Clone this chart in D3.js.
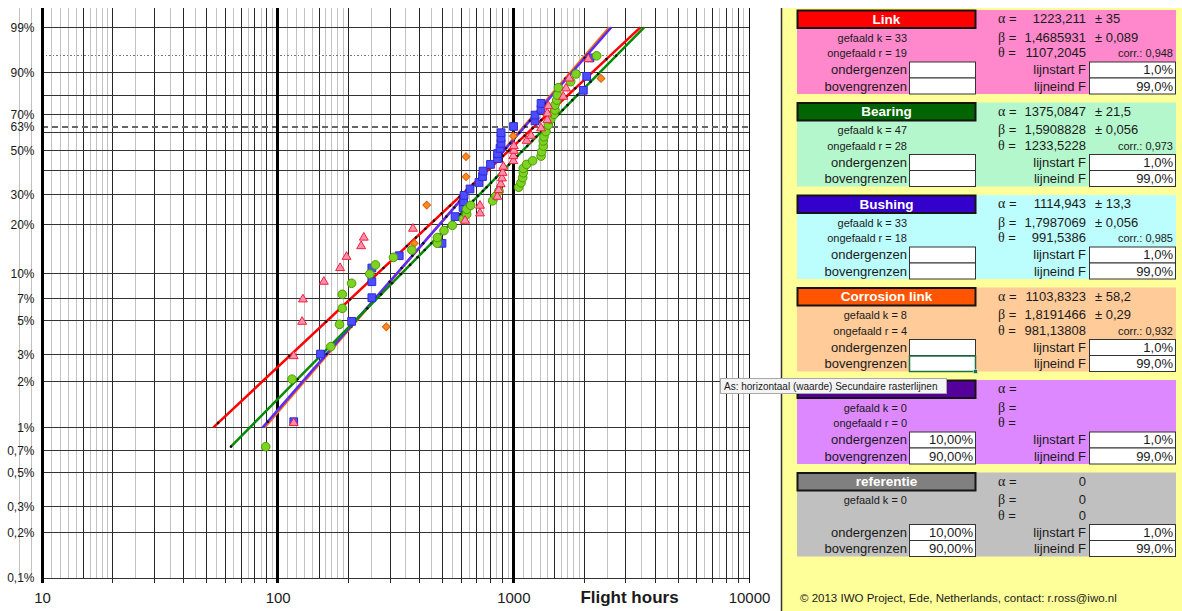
<!DOCTYPE html>
<html>
<head>
<meta charset="utf-8">
<script src="https://cdn.jsdelivr.net/npm/d3@7"></script>
<style>
body { margin: 0; background: #fff; }
text { font-family: "Liberation Sans", Arial, Helvetica, sans-serif; fill: #1a1a1a; }
</style>
</head>
<body>
<div id="chart"></div>
<script>
// =====================
// data
// =====================

// failure times (flight hours) and median ranks F (%)
const linkHours = [117, 117, 127, 128, 157, 184, 196, 226, 232, 375, 624, 722, 722, 855, 867, 884, 895, 901, 907, 1000,
    1000, 1005, 1005, 1139, 1188, 1311, 1394, 1394, 1407, 1629, 1673, 1728, 2080];
const linkF = [1.07, 2.95, 4.94, 6.89, 8.93, 10.9, 12.8, 14.9, 16.8, 19.0, 21.2, 23.4, 25.9, 29.1, 31.7, 34.1, 36.6, 39.1, 42.0, 44.8,
    47.3, 50.1, 52.6, 55.5, 58.3, 62.5, 67.1, 70.8, 74.8, 79.6, 83.6, 87.8, 94.1];

const bearingHours = [89, 115, 168, 183, 188, 188, 206, 246, 260, 310, 371, 476, 476, 508, 551, 613, 634, 634, 659, 817,
    844, 869, 1054, 1078, 1096, 1102, 1102, 1139, 1208, 1311, 1319, 1340, 1340, 1349, 1376, 1407, 1441, 1488, 1502, 1502,
    1528, 1537, 1551, 1751, 1845, 2258];
const bearingF = [0.745, 2.08, 3.40, 4.75, 6.03, 7.42, 8.73, 9.99, 11.4, 12.7, 14.1, 15.5, 16.8, 18.5, 19.9, 21.7, 23.1, 24.7, 26.0, 27.6,
    29.4, 31.3, 32.8, 34.7, 36.9, 39.1, 41.2, 43.1, 44.9, 47.3, 49.6, 52.6, 55.4, 57.7, 60.6, 64.3, 67.5, 70.3, 72.7, 75.3,
    77.9, 80.4, 83.9, 86.5, 89.5, 94.9];

const bushingHours = [117, 152, 206, 251, 251, 251, 328, 498, 566, 612, 615, 618, 655, 715, 740, 744, 800, 857, 857, 878,
    887, 887, 887, 1002, 1236, 1236, 1311, 1311, 1982, 2048, 2115];
const bushingF = [1.09, 3.04, 4.97, 7.06, 8.93, 10.9, 13.0, 15.5, 22.4, 25.3, 27.3, 29.6, 32.1, 34.8, 37.4, 39.9, 43.1, 46.0, 48.6, 51.4,
    54.1, 57.0, 60.0, 63.5, 66.7, 69.9, 73.0, 76.2, 82.7, 88.6, 94.4];

const corrosionHours = [289, 380, 429, 630, 630, 1000, 2355];
const corrosionF = [4.58, 15.5, 26.1, 37.3, 47.0, 58.1, 87.8];

// fit results per block (Link, Bearing, Bushing, Corrosion link, (leeg), referentie)
const blockNames = ["Link", "Bearing", "Bushing", "Corrosion link", "", "referentie"];
const alphas = [1223.211, 1375.0847, 1114.943, 1103.8323, null, 0];
const alphaErr = ["± 35", "± 21,5", "± 13,3", "± 58,2", "", ""];
const betas = [1.4685931, 1.5908828, 1.7987069, 1.8191466, null, 0];
const betaErr = ["± 0,089", "± 0,056", "± 0,056", "± 0,29", "", ""];
const thetas = [1107.2045, 1233.5228, 991.5386, 981.13808, null, 0];
const corrs = ["0,948", "0,973", "0,985", "0,932", "", ""];
const failedK = [33, 47, 33, 8, 0, 0];
const unfailedR = [19, 28, 18, 4, 0, null];
const lowerBounds = ["", "", "", "", "10,00%", "10,00%"];
const upperBounds = ["", "", "", "", "90,00%", "90,00%"];
const lineStartF = [1.0, 1.0, 1.0, 1.0, 1.0, 1.0];
const lineEndF = [99.0, 99.0, 99.0, 99.0, 99.0, 99.0];

// axis ticks
const yTickF = [99, 90, 70, 63.2, 50, 30, 20, 10, 7, 5, 3, 2, 1, 0.7, 0.5, 0.3, 0.2, 0.1];
const yGridF = [99, 90, 80, 70, 60, 50, 40, 30, 20, 10, 7, 5, 3, 2, 1, 0.7, 0.5, 0.3, 0.2, 0.1];
const xTickHours = [10, 100, 1000, 10000];
const decades = [10, 100, 1000];
const darkMult = [1.5, 2, 3, 4, 5, 6, 7, 8, 9];
const lightMult = [1.1, 1.2, 1.3, 1.4, 1.6, 1.7, 1.8, 1.9, 2.5, 3.5, 4.5, 5.5, 6.5, 7.5, 8.5, 9.5];
const tickMult = [2, 3, 4, 5, 6, 7, 8, 9, 10];

// =====================
// set up scales etc.
// =====================
const W = 1182, H = 611;
const plot = {left: 42, right: 749, top: 8, bottom: 578, topLine: 27.3};

const x = d3.scaleLog().domain([10, 10000]).range([plot.left, plot.right]);
const weib = p => Math.log(-Math.log(1 - p / 100));
const yW = d3.scaleLinear().domain([weib(0.1), weib(99)]).range([plot.bottom, plot.topLine]);
const y = p => yW(weib(p));

// hours on the fitted line for a given F
const fitHours = (p, a, b) => a * Math.pow(-Math.log(1 - p / 100), 1 / b);
const nl = v => String(v).replace(".", ",");

// marker styles, drawn in this order
const series = [
    {i: 3, hours: corrosionHours, F: corrosionF, line: "#FF6a00", sym: d3.symbolSquare, size: 30, rot: 45, fill: "#FF8C1A", stroke: "#D86010"},
    {i: 2, hours: bushingHours, F: bushingF, line: "#5A2BFF", sym: d3.symbolSquare, size: 60, rot: 0, fill: "#4D4DFF", stroke: "#2B2BD9"},
    {i: 1, hours: bearingHours, F: bearingF, line: "#058A05", sym: d3.symbolCircle, size: 58, rot: 0, fill: "#7DD321", stroke: "#4E9A06"},
    {i: 0, hours: linkHours, F: linkF, line: "#FF0000", sym: d3.symbolTriangle, size: 34, rot: 0, fill: "#FF8FAF", stroke: "#F0203A"},
];

const svg = d3.select("#chart").append("svg")
    .attr("width", W)
    .attr("height", H)
    .style("display", "block");

svg.append("rect").attr("width", W).attr("height", H).attr("fill", "#fff");

// ---------------- grid ----------------
const grid = svg.append("g").attr("shape-rendering", "crispEdges");

const lightX = decades.flatMap(d => lightMult.map(m => d * m)).concat([8, 9]);
const darkX = decades.flatMap(d => darkMult.map(m => d * m));

grid.selectAll(".vl").data(lightX).join("line")
    .attr("class", "vl")
    .attr("x1", d => x(d)).attr("x2", d => x(d))
    .attr("y1", plot.top).attr("y2", plot.bottom)
    .attr("stroke", "#c2c2c2").attr("stroke-width", 1);

grid.selectAll(".vd").data(darkX).join("line")
    .attr("class", "vd")
    .attr("x1", d => x(d)).attr("x2", d => x(d))
    .attr("y1", plot.top).attr("y2", plot.bottom)
    .attr("stroke", "#262626").attr("stroke-width", 1);

// small ticks below the plot
grid.selectAll(".tk").data(decades.flatMap(d => tickMult.map(m => d * m)))
    .join("line")
    .attr("class", "tk")
    .attr("x1", d => x(d)).attr("x2", d => x(d))
    .attr("y1", plot.bottom).attr("y2", plot.bottom + 5)
    .attr("stroke", "#262626");

grid.selectAll(".hl").data(yGridF).join("line")
    .attr("class", "hl")
    .attr("x1", plot.left).attr("x2", plot.right)
    .attr("y1", d => y(d)).attr("y2", d => y(d))
    .attr("stroke", "#333").attr("stroke-width", 1);

grid.append("line")
    .attr("x1", plot.left).attr("x2", plot.right)
    .attr("y1", y(95)).attr("y2", y(95))
    .attr("stroke", "#777").attr("stroke-dasharray", "1.5,2");

grid.append("line")
    .attr("x1", plot.left).attr("x2", plot.right)
    .attr("y1", y(63.2)).attr("y2", y(63.2))
    .attr("stroke", "#666").attr("stroke-width", 1.2).attr("stroke-dasharray", "6,4");

grid.selectAll(".dec").data(decades).join("line")
    .attr("class", "dec")
    .attr("x1", d => x(d)).attr("x2", d => x(d))
    .attr("y1", plot.top).attr("y2", plot.bottom + 5)
    .attr("stroke", "#000").attr("stroke-width", 3);

grid.append("line")
    .attr("x1", x(10000)).attr("x2", x(10000))
    .attr("y1", plot.top).attr("y2", plot.bottom + 5)
    .attr("stroke", "#111");

// ---------------- axis labels ----------------
svg.append("defs").append("clipPath").attr("id", "ylab")
  .append("rect").attr("x", 7).attr("y", 0).attr("width", 34).attr("height", H);

svg.append("g").attr("clip-path", "url(#ylab)")
  .selectAll("text").data(yTickF).join("text")
    .attr("x", 34.5)
    .attr("y", d => y(d) + 4.3)
    .attr("text-anchor", "end")
    .attr("font-size", 12)
    .text(d => (d === 63.2 ? "63" : nl(d)) + "%");

svg.selectAll(".xl").data(xTickHours).join("text")
    .attr("class", "xl")
    .attr("x", d => x(d) + 0.5)
    .attr("y", 603)
    .attr("text-anchor", "middle")
    .attr("font-size", 15)
    .text(d => d);

svg.append("text")
    .attr("x", 629.5).attr("y", 602.5)
    .attr("text-anchor", "middle")
    .attr("font-size", 17).attr("font-weight", "bold")
    .text("Flight hours");

// ---------------- fitted lines ----------------
const line = d3.line().x(d => x(d[0])).y(d => y(d[1]));

series.forEach(s => {
    const a = alphas[s.i], b = betas[s.i];
    const f0 = Math.min(lineStartF[s.i], d3.min(s.F));
    const f1 = Math.max(lineEndF[s.i], d3.max(s.F));
    const pts = [f0, f1].map(p => [fitHours(p, a, b), p]);
    svg.append("path")
        .attr("d", line(pts))
        .attr("fill", "none")
        .attr("stroke", s.line)
        .attr("stroke-width", 2.5);
    svg.append("g").selectAll("circle").data(s.F).join("circle")
        .attr("cx", p => x(fitHours(p, a, b)))
        .attr("cy", p => y(p))
        .attr("r", 1.3)
        .attr("fill", "#111");
});

// ---------------- data points ----------------
series.forEach(s => {
    const sym = d3.symbol().type(s.sym).size(s.size);
    svg.append("g").selectAll("path").data(s.hours).join("path")
        .attr("d", sym)
        .attr("transform", (h, j) => "translate(" + x(h) + "," + y(s.F[j]) + ") rotate(" + s.rot + ")")
        .attr("fill", s.fill)
        .attr("stroke", s.stroke)
        .attr("stroke-width", 1);
});

// ---------------- right panel ----------------
const blockBg = ["#FF88CC", "#B5F7CD", "#BCFDFD", "#FFCB99", "#DD88FF", "#C0C0C0"];
const headBg = ["#FF0000", "#006400", "#3300CC", "#FF5500", "#55009A", "#808080"];

const panel = svg.append("g");
panel.append("rect")
    .attr("x", 781).attr("y", 8).attr("width", W - 781).attr("height", H - 8)
    .attr("fill", "#FFFF99");
panel.append("line")
    .attr("x1", 781.5).attr("x2", 781.5).attr("y1", 8).attr("y2", H)
    .attr("stroke", "#333").attr("stroke-width", 1.5);

const blocks = panel.selectAll(".blk").data(blockNames).join("g")
    .attr("class", "blk")
    .attr("transform", (d, i) => "translate(0," + (10 + i * 92.5) + ")");

blocks.append("rect")
    .attr("x", 797).attr("y", 0).attr("width", 379).attr("height", 84)
    .attr("fill", (d, i) => blockBg[i]);

blocks.append("rect")
    .attr("x", 797.5).attr("y", 0.5).attr("width", 178).attr("height", 17.5)
    .attr("fill", (d, i) => headBg[i])
    .attr("stroke", "#151515").attr("stroke-width", 2);

blocks.append("text")
    .attr("x", 886.5).attr("y", 13.7)
    .attr("text-anchor", "middle")
    .attr("font-size", 13.5).attr("font-weight", "bold")
    .style("fill", "#fff")
    .text(d => d);

function label(sel, xx, yy, size, anchor, fn) {
    sel.append("text")
        .attr("x", xx).attr("y", yy)
        .attr("font-size", size)
        .attr("text-anchor", anchor)
        .text(fn);
}

// greek letters
[["α", 13.3], ["β", 31.7], ["θ", 47.3]].forEach(g => {
    const t = blocks.append("text").attr("x", 998).attr("y", g[1]).attr("font-size", 13);
    t.append("tspan").style("font-family", "'Liberation Serif', 'Times New Roman', serif").attr("font-size", 14).text(g[0]);
    t.append("tspan").text(" =");
});

label(blocks, 1086, 13.3, 13, "end", (d, i) => alphas[i] === null ? "" : nl(alphas[i]));
label(blocks, 1086, 31.7, 13, "end", (d, i) => betas[i] === null ? "" : nl(betas[i]));
label(blocks, 1086, 47.3, 13, "end", (d, i) => thetas[i] === null ? "" : nl(thetas[i]));
label(blocks, 1095, 13.3, 13, "start", (d, i) => alphaErr[i]);
label(blocks, 1095, 31.7, 13, "start", (d, i) => betaErr[i]);
label(blocks, 1173, 47.3, 11, "end", (d, i) => corrs[i] ? "corr.: " + corrs[i] : "");

label(blocks, 907, 31.7, 11, "end", (d, i) => "gefaald k = " + failedK[i]);
label(blocks, 907, 47.3, 11, "end", (d, i) => unfailedR[i] === null ? "" : "ongefaald r = " + unfailedR[i]);
label(blocks, 907, 64, 13, "end", "ondergenzen");
label(blocks, 907, 80.7, 13, "end", "bovengrenzen");
label(blocks, 1086, 64, 13, "end", "lijnstart F");
label(blocks, 1086, 80.7, 13, "end", "lijneind F");

[[909.5, 52, 66], [909.5, 68, 66], [1089.5, 52, 86], [1089.5, 68, 86]].forEach(b => {
    blocks.append("rect")
        .attr("x", b[0]).attr("y", b[1]).attr("width", b[2]).attr("height", 16)
        .attr("fill", "#fff").attr("stroke", "#333").attr("stroke-width", 1);
});

label(blocks, 973, 64, 13, "end", (d, i) => lowerBounds[i]);
label(blocks, 973, 80.7, 13, "end", (d, i) => upperBounds[i]);
label(blocks, 1173, 64, 13, "end", (d, i) => nl(lineStartF[i].toFixed(1)) + "%");
label(blocks, 1173, 80.7, 13, "end", (d, i) => nl(lineEndF[i].toFixed(1)) + "%");

// selected cell (Corrosion link, bovengrenzen)
const sel = blocks.filter((d, i) => i === 3);
sel.append("rect")
    .attr("x", 909.5).attr("y", 68.5).attr("width", 66).attr("height", 15.5)
    .attr("fill", "none").attr("stroke", "#1E7145").attr("stroke-width", 1.5);
sel.append("rect")
    .attr("x", 973.5).attr("y", 82).attr("width", 4).attr("height", 4)
    .attr("fill", "#1E7145").attr("stroke", "#fff").attr("stroke-width", 0.5);

panel.append("text")
    .attr("x", 800).attr("y", 602)
    .attr("font-size", 11.5)
    .text("© 2013 IWO Project, Ede, Netherlands, contact: r.ross@iwo.nl");

// tooltip from the spreadsheet
const tip = svg.append("g");
tip.append("rect")
    .attr("x", 720.5).attr("y", 378.5).attr("width", 226).attr("height", 15)
    .attr("fill", "#F4F4F4").attr("stroke", "#A8A8A8");
tip.append("text")
    .attr("x", 724).attr("y", 389.5)
    .attr("font-size", 10)
    .text("As: horizontaal (waarde)  Secundaire rasterlijnen");
</script>
</body>
</html>
